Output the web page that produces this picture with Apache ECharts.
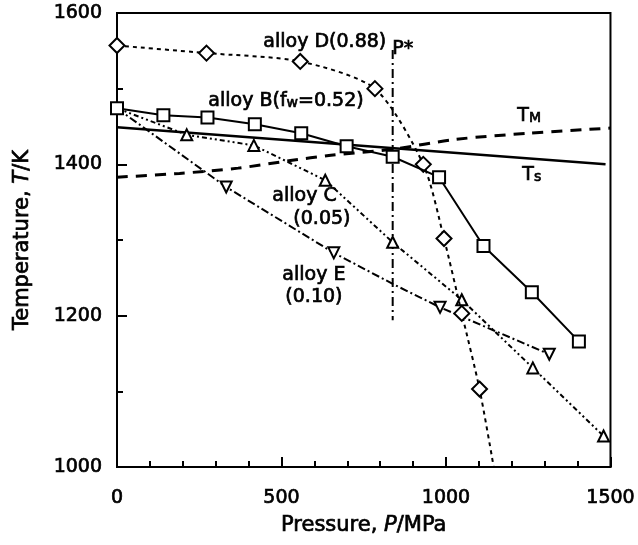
<!DOCTYPE html>
<html>
<head>
<meta charset="utf-8">
<script src="https://cdn.jsdelivr.net/npm/echarts@6/dist/echarts.min.js"></script>
<style>
  html, body { margin: 0; padding: 0; background: #fff; }
  #main { width: 638px; height: 545px; }
</style>
</head>
<body>
<div id="main"></div>
<script>
// data: [pressure MPa, temperature K]
var alloyB = [[0, 1474], [141, 1465], [275, 1462], [419, 1453], [560, 1441], [698, 1424],
              [838, 1410], [979, 1383], [1114, 1292], [1261, 1231], [1404, 1166]];
var alloyC = [[0, 1474], [212, 1439], [416, 1425], [633, 1379], [838, 1297], [1048, 1221],
              [1264, 1131], [1479, 1041]];
var alloyD = [[0, 1557], [272, 1547], [557, 1536], [784, 1500], [931, 1400], [994, 1302],
              [1048, 1203], [1102, 1103], [1145, 1000]];
var alloyE = [[0, 1474], [332, 1370], [659, 1283], [838, 1242], [982, 1211], [1314, 1149]];
var lineTM = [[0, 1383], [190, 1388], [368, 1395], [527, 1405], [650, 1412], [838, 1420],
              [1030, 1433], [1250, 1441], [1500, 1448]];
var lineTs = [[0, 1449], [1485, 1400]];
var pStar = [[838, 1551], [838, 1194]];

// points that are only line vertices, no marker
var hidden = {
    C: [0],
    D: [1145],
    E: [0, 838]
};

var FONT = 'DejaVu Sans';

function marked(data, skip) {
    return data.map(function (p) {
        if (skip.indexOf(p[0]) >= 0) {
            return { value: p, symbol: 'none' };
        }
        return p;
    });
}

var chart = echarts.init(document.getElementById('main'));

var mk = { color: '#fff', borderColor: '#000', borderWidth: 2 };

// scanned text looks heavy: thicken glyphs a bit without widening them
function nameStyle() {
    return {
        fontFamily: FONT, fontSize: 21, color: '#000',
        textBorderColor: '#000', textBorderWidth: 0.7,
        rich: {
            i: { fontFamily: FONT, fontSize: 21, fontStyle: 'italic', color: '#000',
                 textBorderColor: '#000', textBorderWidth: 0.7 }
        }
    };
}

var option = {
    backgroundColor: '#fff',
    animation: false,
    grid: {
        left: 117, right: 20, top: 13, bottom: 78,
        show: true, borderColor: '#000', borderWidth: 2
    },
    xAxis: {
        type: 'value', min: 0, max: 1500, interval: 500,
        name: 'Pressure, {i|P}/MPa',
        nameLocation: 'middle', nameGap: 48,
        nameTextStyle: nameStyle(),
        axisLine: { lineStyle: { color: '#000', width: 2 } },
        axisTick: { inside: true, length: 10, lineStyle: { color: '#000', width: 2 } },
        minorTick: { show: true, splitNumber: 5, length: 6, lineStyle: { color: '#000', width: 2 } },
        splitLine: { show: false },
        axisLabel: {
            fontFamily: FONT, fontSize: 19, color: '#000', margin: 22,
            textBorderColor: '#000', textBorderWidth: 0.7,
            formatter: function (v) { return String(v); }
        }
    },
    yAxis: {
        type: 'value', min: 1000, max: 1600, interval: 200,
        name: 'Temperature, {i|T}/K',
        nameLocation: 'middle', nameGap: 84,
        nameTextStyle: nameStyle(),
        axisLine: { lineStyle: { color: '#000', width: 2 } },
        axisTick: { inside: true, length: 10, lineStyle: { color: '#000', width: 2 } },
        minorTick: { show: true, splitNumber: 2, length: 6, lineStyle: { color: '#000', width: 2 } },
        splitLine: { show: false },
        axisLabel: {
            fontFamily: FONT, fontSize: 19, color: '#000', margin: 15,
            textBorderColor: '#000', textBorderWidth: 0.7,
            formatter: function (v) { return String(v); }
        }
    },
    series: [
        {
            name: 'Ts', type: 'line', data: lineTs, symbol: 'none', z: 1,
            lineStyle: { color: '#000', width: 2.5 }
        },
        {
            name: 'TM', type: 'line', data: lineTM, symbol: 'none', smooth: 0.3, z: 1,
            lineStyle: { color: '#000', width: 3, type: [11, 8] }
        },
        {
            name: 'P*', type: 'line', data: pStar, symbol: 'none', z: 1,
            lineStyle: { color: '#000', width: 2, type: [9, 4, 2, 4] }
        },
        {
            name: 'alloy E', type: 'line', data: marked(alloyE, hidden.E),
            symbol: 'triangle', symbolRotate: 180, symbolSize: 11, z: 2,
            lineStyle: { color: '#000', width: 2, type: [8, 3, 2, 3] },
            itemStyle: mk
        },
        {
            name: 'alloy C', type: 'line', data: marked(alloyC, hidden.C),
            symbol: 'triangle', symbolSize: 11, z: 3,
            lineStyle: { color: '#000', width: 2, type: [5, 3, 2, 3, 2, 3] },
            itemStyle: mk
        },
        {
            name: 'alloy D', type: 'line', data: marked(alloyD, hidden.D),
            symbol: 'diamond', symbolSize: 15, smooth: 0.25, z: 4,
            lineStyle: { color: '#000', width: 2, type: [4, 4] },
            itemStyle: mk
        },
        {
            name: 'alloy B', type: 'line', data: alloyB,
            symbol: 'rect', symbolSize: 12, z: 5,
            lineStyle: { color: '#000', width: 2 },
            itemStyle: mk
        }
    ],
    graphic: [
        txt(263, 43, 'alloy D(0.88)'),
        txt(392, 50, 'P*'),
        txt(208, 102, 'alloy B(f{s|w}=0.52)'),
        txt(517, 117, 'T{s|M}'),
        txt(522, 176, 'T{s|s}'),
        txt(272, 197, 'alloy C'),
        txt(293, 220, '(0.05)'),
        txt(282, 276, 'alloy E'),
        txt(285, 298, '(0.10)')
    ]
};

function txt(x, y, s) {
    return {
        type: 'text', left: x, top: y - 11, z: 100,
        style: {
            text: s, fill: '#000',
            font: '19px "' + FONT + '"',
            stroke: '#000', lineWidth: 0.7,
            rich: {
                s: { fontFamily: FONT, fontSize: 14, verticalAlign: 'bottom',
                     padding: [6, 0, 0, 0], fill: '#000', stroke: '#000', lineWidth: 0.7 }
            }
        }
    };
}

chart.setOption(option);
</script>
</body>
</html>
